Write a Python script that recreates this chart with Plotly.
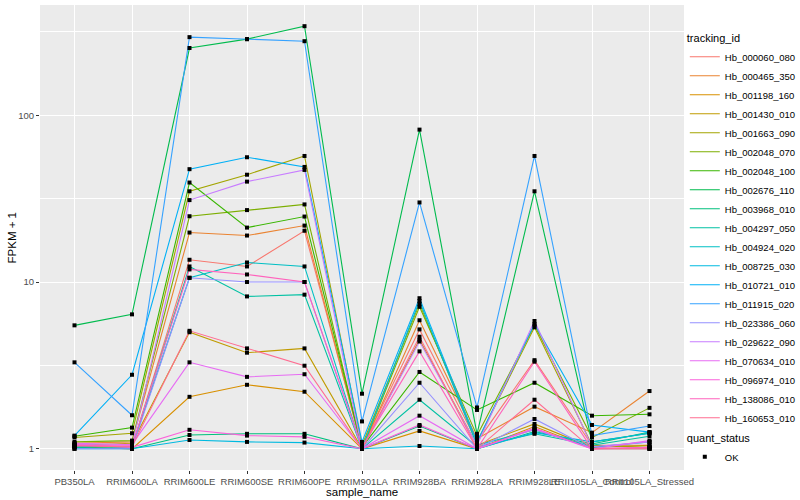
import plotly.graph_objects as go

samples = ["PB350LA", "RRIM600LA", "RRIM600LE", "RRIM600SE", "RRIM600PE", "RRIM901LA",
           "RRIM928BA", "RRIM928LA", "RRIM928LE", "RRII105LA_Control", "RRII105LA_Stressed"]

tracking_ids = ["Hb_000060_080", "Hb_000465_350", "Hb_001198_160", "Hb_001430_010",
                "Hb_001663_090", "Hb_002048_070", "Hb_002048_100", "Hb_002676_110",
                "Hb_003968_010", "Hb_004297_050", "Hb_004924_020", "Hb_008725_030",
                "Hb_010721_010", "Hb_011915_020", "Hb_023386_060", "Hb_029622_090",
                "Hb_070634_010", "Hb_096974_010", "Hb_138086_010", "Hb_160653_010"]

colors = ["#F8766D", "#EA8331", "#D89000", "#C09B00", "#A3A500", "#7CAE00", "#39B600",
          "#00BB4E", "#00BF7D", "#00C1A3", "#00BFC4", "#00BAE0", "#00B0F6", "#35A2FF",
          "#9590FF", "#C77CFF", "#E76BF3", "#FA62DB", "#FF62BC", "#FF6C91"]

# FPKM + 1 values, one list per tracking_id, in sample order
hb_000060_080 = [1.05, 1.02, 13.6, 12.4, 20.3, 1.02, 5.2, 1.10, 3.40, 1.05, 1.05]
hb_000465_350 = [1.08, 1.10, 19.8, 19.0, 21.8, 1.00, 5.9, 1.15, 1.79, 1.25, 2.22]
hb_001198_160 = [1.03, 1.00, 2.05, 2.42, 2.20, 1.00, 1.28, 1.00, 1.36, 1.00, 1.00]
hb_001430_010 = [1.05, 1.08, 5.0, 3.77, 4.0, 1.00, 4.5, 1.05, 1.41, 1.02, 1.05]
hb_001663_090 = [1.17, 1.24, 35.0, 44.0, 57.0, 1.05, 7.4, 1.10, 5.35, 1.05, 1.02]
hb_002048_070 = [1.10, 1.12, 24.8, 27.0, 29.2, 1.00, 7.1, 1.20, 5.50, 1.17, 1.76]
hb_002048_100 = [1.19, 1.34, 39.5, 21.2, 24.7, 1.02, 2.89, 1.71, 2.49, 1.58, 1.61]
hb_002676_110 = [5.5, 6.4, 253.0, 286.0, 342.0, 2.14, 82.0, 1.23, 35.0, 1.10, 1.24]
hb_003968_010 = [1.02, 1.00, 1.21, 1.23, 1.23, 1.00, 1.37, 1.00, 1.27, 1.07, 1.26]
hb_004297_050 = [1.04, 1.02, 12.4, 8.2, 8.4, 1.00, 1.97, 1.03, 1.23, 1.05, 1.19]
hb_004924_020 = [1.03, 1.03, 10.6, 13.1, 12.4, 1.00, 7.7, 1.05, 1.30, 1.02, 1.10]
hb_008725_030 = [1.00, 1.00, 1.13, 1.10, 1.09, 1.00, 1.04, 1.00, 1.25, 1.10, 1.24]
hb_010721_010 = [1.20, 2.78, 47.5, 56.0, 49.0, 1.10, 8.0, 1.10, 5.60, 1.39, 1.26]
hb_011915_020 = [3.3, 1.59, 294.0, 286.0, 278.0, 1.46, 30.0, 1.77, 57.0, 1.20, 1.37]
hb_023386_060 = [1.00, 1.00, 10.6, 10.0, 10.0, 1.00, 2.49, 1.00, 1.51, 1.00, 1.00]
hb_029622_090 = [1.06, 1.05, 31.0, 40.0, 47.0, 1.00, 4.4, 1.05, 5.84, 1.03, 1.10]
hb_070634_010 = [1.08, 1.06, 3.3, 2.7, 2.8, 1.00, 1.58, 1.00, 1.31, 1.00, 1.12]
hb_096974_010 = [1.06, 1.02, 1.30, 1.20, 1.18, 1.00, 1.39, 1.00, 1.33, 1.00, 1.02]
hb_138086_010 = [1.05, 1.04, 11.9, 11.1, 10.0, 1.02, 3.84, 1.00, 3.33, 1.00, 1.02]
hb_160653_010 = [1.04, 1.03, 5.1, 4.0, 3.15, 1.00, 4.7, 1.00, 1.97, 1.00, 1.00]

series = [hb_000060_080, hb_000465_350, hb_001198_160, hb_001430_010, hb_001663_090,
          hb_002048_070, hb_002048_100, hb_002676_110, hb_003968_010, hb_004297_050,
          hb_004924_020, hb_008725_030, hb_010721_010, hb_011915_020, hb_023386_060,
          hb_029622_090, hb_070634_010, hb_096974_010, hb_138086_010, hb_160653_010]

quant_status = ["OK"]

FONT = "Liberation Sans, Arial, sans-serif"

fig = go.Figure()
for name, col, vals in zip(tracking_ids, colors, series):
    fig.add_trace(go.Scatter(
        x=samples, y=vals, mode="lines", name=name,
        line=dict(color=col, width=1.1),
        legend="legend", hoverinfo="skip"))

# points (all black squares, drawn on top)
px, py = [], []
for vals in series:
    px.extend(samples)
    py.extend(vals)
fig.add_trace(go.Scatter(
    x=px, y=py, mode="markers", showlegend=False,
    marker=dict(color="black", symbol="square", size=4, line=dict(width=0))))

# quant_status legend entry
fig.add_trace(go.Scatter(
    x=[None], y=[None], mode="markers", name=quant_status[0], legend="legend2",
    marker=dict(color="black", symbol="square", size=4)))

fig.update_layout(
    width=800, height=500,
    margin=dict(l=40, r=116, t=5, b=30, autoexpand=False),
    paper_bgcolor="white", plot_bgcolor="#EBEBEB",
    font=dict(family=FONT, size=10, color="black"),
    xaxis=dict(
        type="category", range=[-0.6, 10.6], tickangle=0,
        showgrid=True, gridcolor="white", gridwidth=1.1,
        ticks="outside", ticklen=3, tickcolor="#333333", tickwidth=1,
        tickfont=dict(size=9.5, color="#4D4D4D"),
        showline=False, zeroline=False),
    yaxis=dict(
        type="log", range=[-0.127, 2.661],
        tickvals=[1, 10, 100], ticktext=["1", "10", "100"],
        showgrid=True, gridcolor="white", gridwidth=1.1,
        minor=dict(tickvals=[3.1623, 31.623, 316.23], showgrid=True,
                   gridcolor="white", gridwidth=0.5, ticks=""),
        ticks="outside", ticklen=3, tickcolor="#333333", tickwidth=1,
        tickfont=dict(size=9.5, color="#4D4D4D"),
        showline=False, zeroline=False),
    annotations=[
        dict(text="sample_name", xref="paper", yref="paper", x=0.5, y=-0.048,
             xanchor="center", yanchor="middle", showarrow=False,
             font=dict(size=11.5, color="black")),
        dict(text="FPKM + 1", xref="paper", yref="paper", x=-0.0435, y=0.5,
             xanchor="center", yanchor="middle", textangle=-90, showarrow=False,
             font=dict(size=11.5, color="black")),
    ],
    legend=dict(
        title=dict(text="tracking_id", font=dict(size=11)),
        xref="container", yref="container", x=0.856, y=0.944,
        xanchor="left", yanchor="top", tracegroupgap=0, maxheight=420,
        font=dict(size=9.5), bgcolor="rgba(0,0,0,0)", itemwidth=30),
    legend2=dict(
        title=dict(text="quant_status", font=dict(size=11)),
        xref="container", yref="container", x=0.856, y=0.144,
        xanchor="left", yanchor="top",
        font=dict(size=9.5), bgcolor="rgba(0,0,0,0)", itemwidth=30),
)

fig.write_html("out.html", config={"displayModeBar": False},
               post_script="document.body.style.margin='0';")
